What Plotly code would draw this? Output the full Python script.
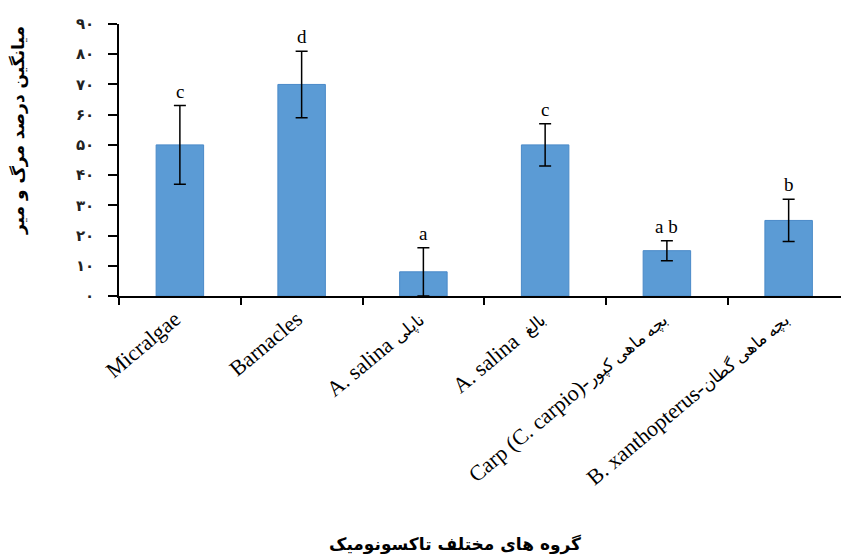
import plotly.graph_objects as go

categories = ["Micralgae", "Barnacles", "A. salina ناپلی", "A. salina  بالغ",
              "Carp (C. carpio)- بچه ماهی کپور", "B. xanthopterus- بچه ماهی گطان"]
latin_part = ["Micralgae", "Barnacles", "A. salina ", "A. salina  ",
              "Carp (C. carpio)-", "B. xanthopterus-"]
persian_part = ["", "", "ناپلی", "بالغ", "بچه ماهی کپور", "بچه ماهی گطان"]
means = [50, 70, 8, 50, 15, 25]
errors = [13, 11, 8, 7, 3.3, 7]
letters = ["c", "d", "a", "c", "a b", "b"]
ytick_vals = [0, 10, 20, 30, 40, 50, 60, 70, 80, 90]
ytick_text = ["۰", "۱۰", "۲۰", "۳۰", "۴۰", "۵۰", "۶۰", "۷۰", "۸۰", "۹۰"]
y_title = "میانگین درصد مرگ و میر"
x_title = "گروه های مختلف تاکسونومیک"

xtick_text = [l + (f"<span style='font-size:17px'>{p}</span>" if p else "")
              for l, p in zip(latin_part, persian_part)]

fig = go.Figure()
fig.add_trace(go.Bar(
    x=categories, y=means, width=0.39,
    marker=dict(color="#5B9BD5", line=dict(color="#4A8AC8", width=1)),
    error_y=dict(type="data", array=errors, visible=True,
                 color="black", thickness=1.5, width=6),
))

for c, m, e, l in zip(categories, means, errors, letters):
    fig.add_annotation(x=c, y=m + e, text=l, showarrow=False, yanchor="bottom",
                       yshift=2, font=dict(family="Liberation Serif", size=19, color="black"))

fig.add_annotation(xref="paper", yref="paper", x=-0.14, xanchor="center", y=0.61,
                   text=y_title, textangle=-90, showarrow=False,
                   font=dict(family="DejaVu Sans", size=17, color="black", weight="bold"))
fig.add_annotation(xref="paper", yref="paper", x=0.465, y=-0.958, yanchor="bottom",
                   text=x_title, showarrow=False,
                   font=dict(family="DejaVu Sans", size=17, color="black", weight="bold"))

fig.update_layout(
    width=841, height=558,
    margin=dict(l=119, r=0, t=24, b=262),
    plot_bgcolor="white", paper_bgcolor="white",
    showlegend=False,
    xaxis=dict(type="category", range=[-0.5, 5.43], tickson="boundaries",
               tickvals=categories, ticktext=xtick_text,
               ticks="outside", ticklen=7, tickwidth=1.5, tickcolor="black",
               showline=True, linecolor="black", linewidth=1.5,
               tickangle=-40, showgrid=False, ticklabelshift=-5,
               tickfont=dict(family="Liberation Serif", size=22, color="black")),
    yaxis=dict(range=[0, 90], tickvals=ytick_vals, ticktext=ytick_text,
               ticks="outside", ticklen=9, tickwidth=1.5, tickcolor="black",
               showline=True, linecolor="black", linewidth=1.5, showgrid=False,
               zeroline=False, ticklabelstandoff=11,
               tickfont=dict(family="DejaVu Sans", size=15, color="#222222", weight="bold")),
)

fig.write_html("out.html")
